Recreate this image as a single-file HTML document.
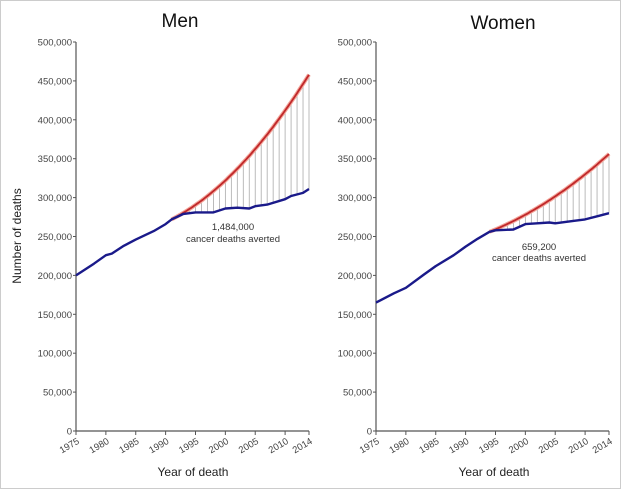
<!DOCTYPE html>
<html><head><meta charset="utf-8"><style>
html,body{margin:0;padding:0;background:#fff}
svg{display:block;font-family:"Liberation Sans",Arial,sans-serif}
</style></head><body>
<svg id="s" width="621" height="489" viewBox="0 0 621 489" xmlns="http://www.w3.org/2000/svg">
<rect x="0.5" y="0.5" width="620" height="488" fill="#fff" stroke="#ccc"/>
<text x="180" y="27" font-size="19" text-anchor="middle" fill="#111">Men</text>
<text x="503" y="29" font-size="19" text-anchor="middle" fill="#111">Women</text>
<text x="193" y="476" font-size="12" text-anchor="middle" fill="#222">Year of death</text>
<text x="494" y="476" font-size="12" text-anchor="middle" fill="#222">Year of death</text>
<text transform="translate(21,236) rotate(-90)" font-size="12" text-anchor="middle" fill="#222">Number of deaths</text>
<text x="233" y="230" font-size="9.5" text-anchor="middle" fill="#333">1,484,000</text>
<text x="233" y="242" font-size="9.5" text-anchor="middle" fill="#333">cancer deaths averted</text>
<text x="539" y="250" font-size="9.5" text-anchor="middle" fill="#333">659,200</text>
<text x="539" y="261" font-size="9.5" text-anchor="middle" fill="#333">cancer deaths averted</text>
<g id="g"></g>
</svg>
<script>
var g=document.getElementById('g'),NS='http://www.w3.org/2000/svg';
function el(t,a,txt){var e=document.createElementNS(NS,t);for(var k in a)e.setAttribute(k,a[k]);if(txt)e.textContent=txt;g.appendChild(e);return e;}
function interp(pts,yr){for(var i=0;i<pts.length-1;i++){if(yr>=pts[i][0]&&yr<=pts[i+1][0]){var t=(yr-pts[i][0])/(pts[i+1][0]-pts[i][0]);return pts[i][1]+t*(pts[i+1][1]-pts[i][1]);}}return pts[pts.length-1][1];}
function panel(ax,blue,redf,rs){
 var X=function(y){return ax+(y-1975)*233/39},Y=function(v){return 431-v*0.778};
 el('line',{x1:ax,y1:42,x2:ax,y2:431,stroke:'#555','stroke-width':1.2});
 el('line',{x1:ax,y1:431,x2:ax+233,y2:431,stroke:'#555','stroke-width':1.2});
 for(var v=0;v<=500;v+=50){el('line',{x1:ax-3,y1:Y(v),x2:ax,y2:Y(v),stroke:'#555'});
  el('text',{x:ax-4,y:Y(v)+3.5,'font-size':9.5,'text-anchor':'end',fill:'#444'},v==0?'0':v+',000');}
 var yrs=[1975,1980,1985,1990,1995,2000,2005,2010,2014];
 yrs.forEach(function(y){el('line',{x1:X(y),y1:431,x2:X(y),y2:435,stroke:'#555'});
  el('text',{x:X(y)+4,y:443,'font-size':9.5,'text-anchor':'end',fill:'#444',transform:'rotate(-30 '+(X(y)+4)+' 443)'},y);});
 for(var y=rs+1;y<=2014;y++){el('line',{x1:X(y),y1:Y(redf(y)),x2:X(y),y2:Y(interp(blue,y)),stroke:'#aaa','stroke-width':0.8});}
 var d='';for(var y=rs;y<=2014.001;y+=0.25)d+=(d?'L':'M')+X(y).toFixed(1)+','+Y(redf(y)).toFixed(1);
 el('path',{d:d,fill:'none',stroke:'#f3a59a','stroke-width':4});
 el('path',{d:d,fill:'none',stroke:'#c0282a','stroke-width':1.8});
 d='';blue.forEach(function(p){d+=(d?'L':'M')+X(p[0]).toFixed(1)+','+Y(p[1]).toFixed(1)});
 el('path',{d:d,fill:'none',stroke:'#1a1a8a','stroke-width':2.4,'stroke-linejoin':'round'});
}
panel(76,
[[1975,200],[1978,215],[1980,226],[1981,228],[1983,238],[1985,246],[1988,257],[1990,266],[1991,272],[1993,279],[1995,281],[1998,281],[2000,286],[2002,287],[2004,286],[2005,289],[2007,291],[2010,298],[2011,302],[2013,306],[2014,311]],
function(y){var t=y-1991;return 272+3.93*t+0.1808*t*t;},1991);
panel(376,
[[1975,165],[1978,177],[1980,184],[1983,201],[1985,212],[1988,226],[1990,237],[1992,247],[1994,256],[1995,258],[1998,259],[2000,266],[2002,267],[2004,268],[2005,267],[2008,270],[2010,272],[2012,276],[2014,280]],
function(y){var t=y-1994;return 256+3.095*t+0.0952*t*t;},1994);
</script>
</body></html>
